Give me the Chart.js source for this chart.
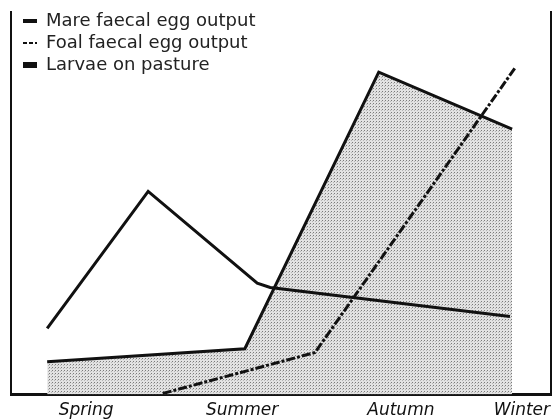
<!DOCTYPE html>
<html>
<head>
<meta charset="utf-8">
<script src="https://cdn.jsdelivr.net/npm/chart.js@4"></script>
<style>
  body { margin: 0; background: #fff; }
  canvas { display: block; }
</style>
</head>
<body>
<canvas id="egg" width="552" height="420"></canvas>
<script>
// time through the year, 0-100 (no units on the original axis)
const seasonPos = [13.9, 42.8, 72.2, 94.6];
const seasonLabels = ['Spring', 'Summer', 'Autumn', 'Winter'];

// relative level, 0-100
const mareX = [6.7, 25.4, 45.6, 48.0, 92.4];
const mareY = [17.3, 53.1, 29.1, 28.0, 20.4];

const foalX = [28.1, 56.3, 93.3];
const foalY = [0.3, 11.0, 85.3];

const larvaeX = [6.7, 43.3, 68.1, 92.8];
const larvaeY = [8.6, 12.0, 84.3, 69.4];

function pts(xs, ys) {
  return xs.map((x, i) => ({ x: x, y: ys[i] }));
}

// stippled grey fill like the printed halftone
function stipple() {
  const c = document.createElement('canvas');
  c.width = 3; c.height = 3;
  const g = c.getContext('2d');
  g.fillStyle = '#e2e2e2';
  g.fillRect(0, 0, 3, 3);
  g.fillStyle = '#7a7a7a';
  g.fillRect(1, 1, 1, 1);
  g.fillStyle = '#b5b5b5';
  g.fillRect(0, 2, 1, 1);
  return g.createPattern(c, 'repeat');
}

// nudge the legend a little inside the axes, as in the original
const legendOffset = {
  id: 'legendOffset',
  afterLayout(chart) {
    chart.legend.left += 8;
    chart.legend.top += 8;
  }
};

const font = 'DejaVu Sans';

new Chart(document.getElementById('egg'), {
  type: 'line',
  data: {
    datasets: [{
      label: 'Mare faecal egg output',
      data: pts(mareX, mareY),
      borderColor: '#111',
      borderWidth: 3,
      pointRadius: 0,
      fill: false
    }, {
      label: 'Foal faecal egg output',
      data: pts(foalX, foalY),
      borderColor: '#111',
      borderWidth: 3,
      borderDash: [9, 2, 3, 2],
      pointRadius: 0,
      fill: false
    }, {
      label: 'Larvae on pasture',
      data: pts(larvaeX, larvaeY),
      borderColor: '#111',
      borderWidth: 3,
      pointRadius: 0,
      backgroundColor: stipple(),
      fill: 'origin'
    }]
  },
  options: {
    responsive: false,
    animation: false,
    events: [],
    layout: { padding: { left: 11, top: 12, right: 1, bottom: -7 } },
    scales: {
      x: {
        type: 'linear',
        min: 0,
        max: 100,
        afterBuildTicks: scale => {
          scale.ticks = seasonPos.map(v => ({ value: v }));
        },
        // let "Winter" run to the edge instead of shrinking the plot
        afterFit: scale => {
          scale.paddingRight = 0;
        },
        ticks: {
          autoSkip: false,
          maxRotation: 0,
          padding: 6,
          color: '#111',
          font: { family: font, size: 17, style: 'italic' },
          callback: (v, i) => seasonLabels[i]
        },
        grid: { display: false, drawTicks: false },
        border: { color: '#111', width: 3 }
      },
      y: {
        min: 0,
        max: 100,
        ticks: { display: false },
        grid: { display: false, drawTicks: false },
        border: { color: '#111', width: 2 }
      },
      yRight: {
        position: 'right',
        min: 0,
        max: 100,
        ticks: { display: false },
        grid: { display: false, drawTicks: false },
        border: { color: '#111', width: 2 }
      }
    },
    plugins: {
      filler: { drawTime: 'beforeDatasetsDraw' },
      tooltip: { enabled: false },
      legend: {
        position: 'chartArea',
        align: 'start',
        labels: {
          usePointStyle: true,
          pointStyleWidth: 14,
          padding: 4,
          color: '#222',
          font: { family: font, size: 18 },
          generateLabels: chart => chart.data.datasets.map((ds, i) => ({
            text: ds.label,
            datasetIndex: i,
            pointStyle: 'line',
            strokeStyle: '#111',
            fillStyle: '#111',
            fontColor: '#222',
            lineWidth: [4, 2, 6][i],
            lineDash: i === 1 ? [4, 2] : []
          }))
        }
      }
    }
  },
  plugins: [legendOffset]
});
</script>
</body>
</html>
